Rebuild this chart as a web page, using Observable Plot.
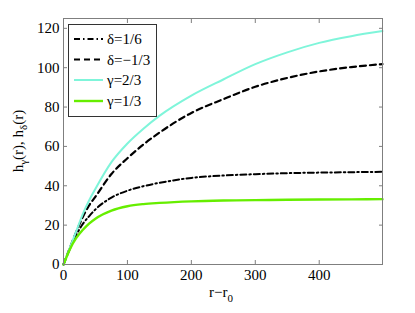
<!DOCTYPE html>
<html>
<head>
<meta charset="utf-8">
<script src="https://cdn.jsdelivr.net/npm/d3@7"></script>
<script src="https://cdn.jsdelivr.net/npm/@observablehq/plot@0.6"></script>
<style>
  html, body { margin: 0; padding: 0; background: white; }
  svg, svg text { font-family: "Liberation Serif", "Times New Roman", serif !important; }
</style>
</head>
<body>
<div id="chart"></div>
<script>
// r - r0 sample positions
const xs = [0, 5, 10, 20, 30, 40, 50, 75, 100, 125, 150, 200, 250, 300, 350, 400, 450, 499];
// series values
const delta16   = [0, 4.2, 8.0, 15.0, 20.5, 24.5, 28.0, 34.0, 37.5, 39.8, 41.5, 44.0, 45.2, 45.9, 46.4, 46.7, 46.9, 47.1];
const deltaM13  = [0, 4.3, 8.5, 16.6, 24.0, 30.0, 34.5, 46.0, 54.0, 61.0, 67.0, 77.0, 84.0, 90.3, 94.8, 98.1, 100.3, 101.8];
const gamma23   = [0, 4.3, 8.6, 17.0, 25.5, 32.5, 38.5, 52.0, 61.5, 69.0, 75.5, 85.8, 94.0, 101.8, 107.8, 112.6, 116.0, 118.6];
const gamma13   = [0, 4.0, 7.8, 13.5, 17.5, 20.8, 23.3, 27.4, 29.6, 30.7, 31.3, 32.1, 32.5, 32.7, 32.9, 33.0, 33.1, 33.2];
const seriesNames = ["δ=1/6", "δ=−1/3", "γ=2/3", "γ=1/3"];
const xTicks = [0, 100, 200, 300, 400];
const yTicks = [0, 20, 40, 60, 80, 100, 120];

const styles = [
  {stroke: "black", strokeWidth: 2, dash: "6,3,1.5,3"},
  {stroke: "black", strokeWidth: 2.2, dash: "6,4"},
  {stroke: "#7ff5da", strokeWidth: 2, dash: null},
  {stroke: "#66ee00", strokeWidth: 2.4, dash: null}
];
const values = [delta16, deltaM13, gamma23, gamma13];
const tables = values.map(v => xs.map((x, i) => ({x, y: v[i]})));

const font = "'Liberation Serif', 'Times New Roman', serif";
const gray = "#7f7f7f";
const plot = Plot.plot({
  width: 415,
  height: 313,
  marginLeft: 63,
  marginRight: 33,
  marginTop: 18,
  marginBottom: 49,
  style: {fontFamily: font, fontSize: "15px", color: "black", background: "white"},
  x: {domain: [0, 499]},
  y: {domain: [0, 125]},
  marks: [
    ...tables.map((t, i) => Plot.line(t, {
      x: "x", y: "y", curve: "monotone-x",
      stroke: styles[i].stroke, strokeWidth: styles[i].strokeWidth,
      strokeDasharray: styles[i].dash
    })),
    Plot.frame({stroke: gray}),
    Plot.axisX({anchor: "bottom", ticks: xTicks, tickSize: -4, tickPadding: 9, stroke: gray, fill: "black", label: null}),
    Plot.axisX({anchor: "top", ticks: xTicks, tickSize: -4, stroke: gray, fill: "none", label: null}),
    Plot.axisY({anchor: "left", ticks: yTicks, tickSize: -4, tickPadding: 8, stroke: gray, fill: "black", label: null}),
    Plot.axisY({anchor: "right", ticks: yTicks, tickSize: -4, stroke: gray, fill: "none", label: null})
  ]
});
document.getElementById("chart").appendChild(plot);

const svg = d3.select(plot);

// y axis label
const yl = svg.append("text")
  .attr("transform", "translate(23,141) rotate(-90)")
  .attr("text-anchor", "middle")
  .style("font-family", font).attr("font-size", 15).attr("fill", "black");
yl.append("tspan").text("h");
yl.append("tspan").attr("font-size", 11).attr("dy", 4).text("γ");
yl.append("tspan").attr("dy", -4).text("(r), h");
yl.append("tspan").attr("font-size", 11).attr("dy", 4).text("δ");
yl.append("tspan").attr("dy", -4).text("(r)");

// x axis label
const xl = svg.append("text")
  .attr("x", 221).attr("y", 297)
  .attr("text-anchor", "middle")
  .style("font-family", font).attr("font-size", 15).attr("fill", "black");
xl.append("tspan").text("r−r");
xl.append("tspan").attr("font-size", 11).attr("dy", 5).text("0");

// legend
const lg = svg.append("g");
lg.append("rect").attr("x", 68.5).attr("y", 24.5).attr("width", 88).attr("height", 92)
  .attr("fill", "white").attr("stroke", "#333").attr("stroke-width", 1);
const rowY = [39, 59.5, 80, 101];
seriesNames.forEach((name, i) => {
  const s = styles[i];
  const ln = lg.append("line").attr("x1", 74).attr("x2", 103)
    .attr("y1", rowY[i]).attr("y2", rowY[i])
    .attr("stroke", s.stroke).attr("stroke-width", s.strokeWidth);
  if (s.dash) ln.attr("stroke-dasharray", s.dash);
  lg.append("text").attr("x", 107).attr("y", rowY[i] + 5)
    .attr("text-anchor", "start")
    .style("font-family", font).attr("font-size", 15).attr("fill", "black")
    .text(name);
});
</script>
</body>
</html>
